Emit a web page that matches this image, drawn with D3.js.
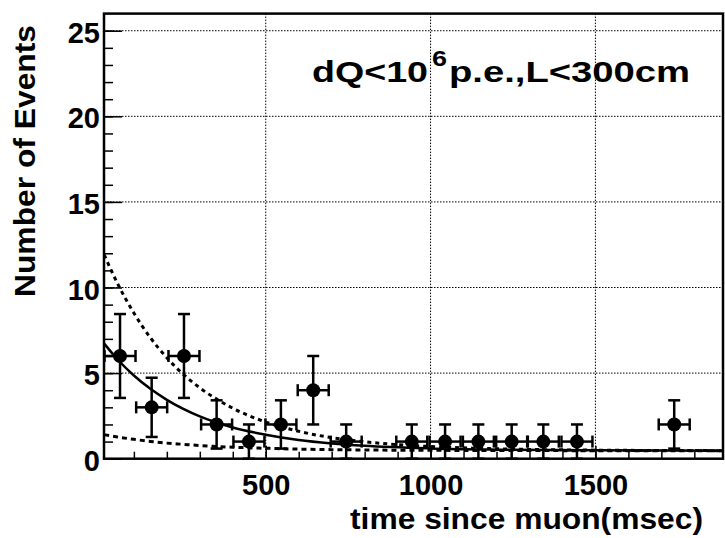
<!DOCTYPE html>
<html>
<head>
<meta charset="utf-8">
<script src="https://cdn.jsdelivr.net/npm/d3@7"></script>
<style>
  html, body { margin: 0; padding: 0; background: #fff; }
  svg { display: block; }
  text { font-family: "Liberation Sans", Arial, Helvetica, sans-serif; font-weight: bold; fill: #000; }
</style>
</head>
<body>
<svg id="chart" width="725" height="538"></svg>
<script>
// ---- data ----
const binTime   = [58, 154, 252, 351, 449, 546, 644, 744, 943, 1044, 1145, 1246, 1342, 1444, 1739];
const counts    = [6, 3, 6, 2, 1, 2, 4, 1, 1, 1, 1, 1, 1, 1, 2];
const countErr  = [2.45, 1.73, 2.45, 1.41, 1, 1.41, 2, 1, 1, 1, 1, 1, 1, 1, 1.41];
const timeErr   = [47, 47, 47, 47, 47, 47, 47, 47, 47, 47, 47, 47, 47, 47, 47];

const curveTime  = [10, 50, 100, 150, 200, 250, 300, 400, 500, 600, 700, 800, 1000, 1200, 1500, 1887];
const fitCentral = [6.72, 5.81, 4.86, 4.08, 3.44, 2.91, 2.47, 1.82, 1.40, 1.09, 0.89, 0.75, 0.60, 0.53, 0.49, 0.47];
const fitUpper   = [11.91, 10.25, 8.51, 7.07, 5.90, 4.93, 4.14, 2.95, 2.14, 1.60, 1.23, 0.99, 0.71, 0.58, 0.50, 0.47];
const fitLower   = [1.40, 1.27, 1.13, 1.01, 0.91, 0.84, 0.77, 0.67, 0.61, 0.56, 0.53, 0.51, 0.49, 0.48, 0.47, 0.47];

const xMajorTicks = [500, 1000, 1500];
const xMinorTicks = d3.range(100, 1900, 100);
const yMajorTicks = [0, 5, 10, 15, 20, 25];
const yMinorTicks = d3.range(1, 26, 1);

const xTitle = "time since muon(msec)";
const yTitle = "Number of Events";
const label1 = "dQ<10", labelSup = "6", label2 = "p.e.,L<300cm";

// ---- layout ----
const L = 104, R = 723, T = 13.6, B = 458.7;
const svg = d3.select("#chart");
const x = d3.scaleLinear().domain([9.4, 1887]).range([L, R]);
const y = d3.scaleLinear().domain([0, 26]).range([B, T]);

// grid
const grid = svg.append("g").attr("stroke", "#000").attr("stroke-width", 1).attr("stroke-dasharray", "1.5,1.5");
grid.selectAll("line.gx").data(xMajorTicks).join("line")
  .attr("x1", d => x(d)).attr("x2", d => x(d)).attr("y1", T).attr("y2", B);
grid.selectAll("line.gy").data(yMajorTicks.filter(d => d > 0)).join("line")
  .attr("x1", L).attr("x2", R).attr("y1", d => y(d)).attr("y2", d => y(d));

// axes ticks (inward)
const yMinorAxis = d3.axisLeft(y).tickValues(yMinorTicks).tickSize(-9).tickFormat("");
const yMajorAxis = d3.axisLeft(y).tickValues(yMajorTicks).tickSize(-18).tickPadding(4).tickFormat(d3.format("d"));
const xMinorAxis = d3.axisBottom(x).tickValues(xMinorTicks).tickSize(-7).tickFormat("");
const xMajorAxis = d3.axisBottom(x).tickValues(xMajorTicks).tickSize(-13).tickPadding(16).tickFormat(d3.format("d"));

function styleAxis(g) {
  g.select(".domain").remove();
  g.selectAll("line").attr("stroke", "#000").attr("stroke-width", 1.5);
  g.selectAll("text").style("font-size", "29px").style("font-family", "'Liberation Sans', Arial, sans-serif")
    .style("font-weight", "bold").attr("fill", "#000");
}
svg.append("g").attr("transform", `translate(${L},0)`).call(yMinorAxis).call(styleAxis);
svg.append("g").attr("transform", `translate(${L},0)`).call(yMajorAxis).call(styleAxis)
  .selectAll("text").attr("dy", "0.40em");
svg.append("g").attr("transform", `translate(0,${B})`).call(xMinorAxis).call(styleAxis);
svg.append("g").attr("transform", `translate(0,${B})`).call(xMajorAxis).call(styleAxis);

// curves
const line = d3.line().x((d, i) => x(curveTime[i])).y(d => y(d)).curve(d3.curveMonotoneX);
svg.append("path").datum(fitUpper).attr("d", line)
  .attr("fill", "none").attr("stroke", "#000").attr("stroke-width", 3).attr("stroke-dasharray", "4,4");
svg.append("path").datum(fitLower).attr("d", line)
  .attr("fill", "none").attr("stroke", "#000").attr("stroke-width", 3).attr("stroke-dasharray", "5,4");
svg.append("path").datum(fitCentral).attr("d", line)
  .attr("fill", "none").attr("stroke", "#000").attr("stroke-width", 2.5);

// data points with error bars
const pts = binTime.map((t, i) => ({ t, n: counts[i], ey: countErr[i], ex: timeErr[i] }));
const pg = svg.append("g").attr("stroke", "#000").attr("stroke-width", 2.5);
const cap = 6;
pts.forEach(p => {
  const cx = x(p.t), cy = y(p.n);
  const y1 = y(p.n + p.ey), y0 = y(Math.max(0, p.n - p.ey));
  const xl = x(p.t - p.ex), xr = x(p.t + p.ex);
  pg.append("line").attr("x1", cx).attr("x2", cx).attr("y1", y1).attr("y2", y0);
  pg.append("line").attr("x1", cx - cap).attr("x2", cx + cap).attr("y1", y1).attr("y2", y1);
  pg.append("line").attr("x1", cx - cap).attr("x2", cx + cap).attr("y1", y0).attr("y2", y0);
  pg.append("line").attr("x1", xl).attr("x2", xr).attr("y1", cy).attr("y2", cy);
  pg.append("line").attr("x1", xl).attr("x2", xl).attr("y1", cy - cap).attr("y2", cy + cap);
  pg.append("line").attr("x1", xr).attr("x2", xr).attr("y1", cy - cap).attr("y2", cy + cap);
});
svg.append("g").selectAll("circle").data(pts).join("circle")
  .attr("cx", d => x(d.t)).attr("cy", d => y(d.n)).attr("r", 7).attr("fill", "#000");

// frame
svg.append("rect").attr("x", L).attr("y", T).attr("width", R - L).attr("height", B - T)
  .attr("fill", "none").attr("stroke", "#000").attr("stroke-width", 2.5);

// titles
svg.append("text").attr("x", 703).attr("y", 529).attr("text-anchor", "end")
  .style("font-size", "30px").attr("textLength", 353).attr("lengthAdjust", "spacingAndGlyphs").text(xTitle);
svg.append("text").attr("transform", "translate(35,161) rotate(-90)").attr("text-anchor", "middle")
  .style("font-size", "30px").attr("textLength", 272).attr("lengthAdjust", "spacingAndGlyphs").text(yTitle);

// annotation
svg.append("text").attr("x", 312).attr("y", 82).style("font-size", "30px")
  .attr("textLength", 116).attr("lengthAdjust", "spacingAndGlyphs").text(label1);
svg.append("text").attr("x", 432).attr("y", 66).style("font-size", "22px")
  .attr("textLength", 15).attr("lengthAdjust", "spacingAndGlyphs").text(labelSup);
svg.append("text").attr("x", 449).attr("y", 82).style("font-size", "30px")
  .attr("textLength", 241).attr("lengthAdjust", "spacingAndGlyphs").text(label2);
</script>
</body>
</html>
